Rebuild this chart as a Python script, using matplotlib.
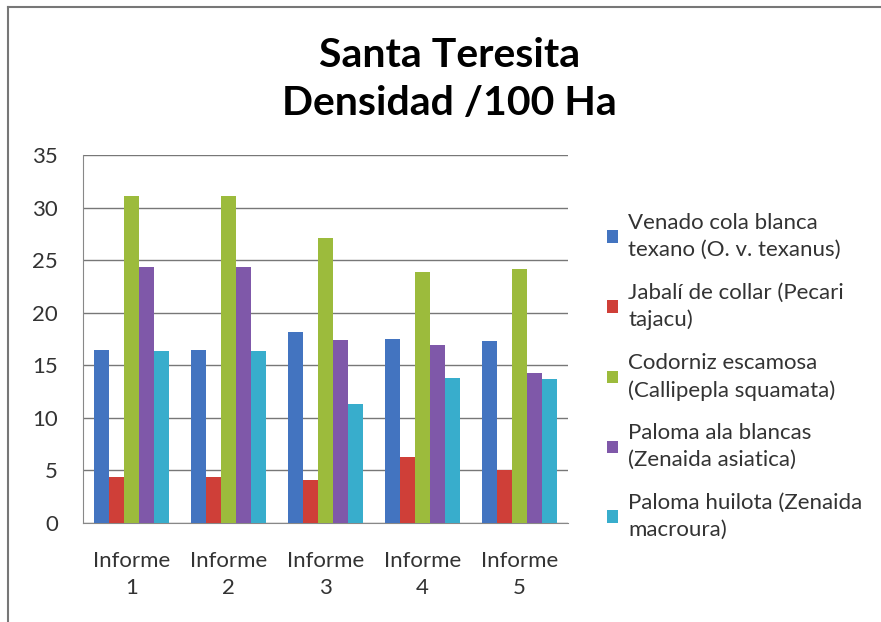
import numpy as np
import matplotlib
matplotlib.use("Agg")
import matplotlib.pyplot as plt
from matplotlib.lines import Line2D

plt.rcParams['font.family'] = ['Lato', 'DejaVu Sans']

# datos
informes = ['Informe\n1', 'Informe\n2', 'Informe\n3', 'Informe\n4', 'Informe\n5']
especies = ['Venado cola blanca\ntexano (O. v. texanus)',
            'Jabalí de collar (Pecari\ntajacu)',
            'Codorniz escamosa\n(Callipepla squamata)',
            'Paloma ala blancas\n(Zenaida asiatica)',
            'Paloma huilota (Zenaida\nmacroura)']
venado = [16.5, 16.5, 18.2, 17.5, 17.3]
jabali = [4.4, 4.4, 4.05, 6.3, 5.0]
codorniz = [31.1, 31.1, 27.1, 23.85, 24.15]
paloma_ala = [24.3, 24.3, 17.4, 16.95, 14.3]
huilota = [16.4, 16.4, 11.35, 13.8, 13.7]

series = [venado, jabali, codorniz, paloma_ala, huilota]
colores = ['#4374C0', '#CF3F38', '#9CBB3C', '#7F58A9', '#38ADCC']

fig = plt.figure(figsize=(8.81, 6.22), dpi=100)
ax = fig.add_axes([0.0942, 0.1592, 0.6447 - 0.0942, 0.7508 - 0.1592])

x = np.arange(len(informes))
w = 0.155
for i, (vals, c) in enumerate(zip(series, colores)):
    ax.bar(x + (i - 2) * w, vals, width=w, color=c, label=especies[i], zorder=3)

ax.set_xlim(-0.5, 4.5)
ax.set_ylim(0, 35)
ax.set_yticks(range(0, 36, 5))
ax.set_xticks(x)
ax.set_xticklabels(informes, fontsize=16, color='#333333', linespacing=1.45)
ax.tick_params(axis='y', labelsize=16, labelcolor='#333333', length=0, pad=18)
ax.tick_params(axis='x', length=0, pad=20)
ax.grid(axis='y', color='#777777', linewidth=1, zorder=0)
for s in ['top', 'right']:
    ax.spines[s].set_visible(False)
for s in ['left', 'bottom']:
    ax.spines[s].set_color('#888888')

fig.text(0.51, 0.872, 'Santa Teresita\nDensidad /100 Ha', ha='center', va='center',
         fontsize=29.5, fontweight='bold', linespacing=1.35)

leg = fig.legend(loc='upper left', bbox_to_anchor=(0.689, 0.6576), frameon=False,
                 fontsize=16, handlelength=0.5, handleheight=0.5, handletextpad=0.45,
                 labelspacing=1.03, borderpad=0, borderaxespad=0, labelcolor='#333333')
for t in leg.get_texts():
    t.set_linespacing(1.42)

# borde del grafico (solo arriba e izquierda visibles)
fig.add_artist(Line2D([0.009, 0.009], [0.0, 0.989], color='#777777', lw=1.5))
fig.add_artist(Line2D([0.009, 1.0], [0.989, 0.989], color='#777777', lw=1.5))

fig.savefig('out.png', dpi=100)
